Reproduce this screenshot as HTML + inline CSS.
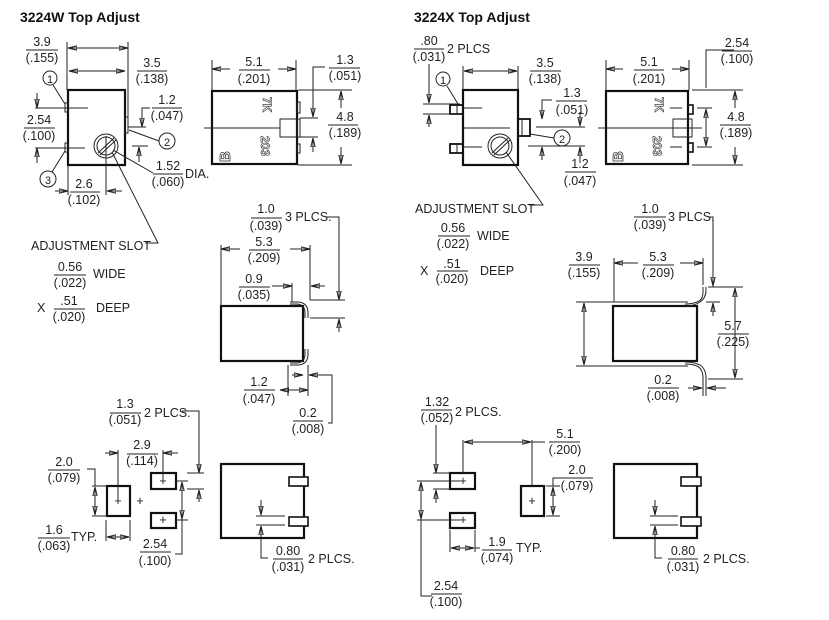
<!DOCTYPE html>
<html><head><meta charset="utf-8"><style>
html,body{margin:0;padding:0;background:#fff}
svg{display:block}
text{font-family:"Liberation Sans Narrow","Liberation Sans",sans-serif;font-size:12.5px;fill:#222}
.m{text-anchor:middle}
.t{font-family:"Liberation Sans",sans-serif;font-weight:bold;font-size:14px;fill:#111}
line,path,polyline{stroke:#222;stroke-width:1;fill:none}
.b{stroke-width:2.2;fill:none;stroke:#111}
.a{marker-end:url(#ar)}
.aa{marker-start:url(#ar2);marker-end:url(#ar)}
</style></head><body>
<svg width="829" height="620" viewBox="0 0 829 620" xmlns="http://www.w3.org/2000/svg">
<defs>
<marker id="ar" markerWidth="10" markerHeight="6" refX="9" refY="3" orient="auto" markerUnits="userSpaceOnUse"><path d="M0,0.8 L9,3 L0,5.2z" fill="#222" stroke="none"/></marker>
<marker id="ar2" markerWidth="10" markerHeight="6" refX="1" refY="3" orient="auto" markerUnits="userSpaceOnUse"><path d="M10,0.8 L1,3 L10,5.2z" fill="#222" stroke="none"/></marker>
</defs>

<!-- ============ LEFT 3224W ============ -->
<text x="20" y="22" class="t">3224W Top Adjust</text>

<rect x="68" y="90" width="57" height="75" class="b"/>
<rect x="65" y="103" width="3" height="9" fill="none" stroke="#222"/>
<rect x="65" y="143" width="3" height="9" fill="none" stroke="#222"/>
<rect x="125" y="117" width="3" height="16" fill="none" stroke="#222"/>
<circle cx="106" cy="146" r="12" fill="none" stroke="#222"/>
<circle cx="106" cy="146" r="9" fill="none" stroke="#222"/>
<line x1="98" y1="153" x2="114" y2="138"/><line x1="100" y1="155" x2="116" y2="140"/>
<line x1="106" y1="136" x2="106" y2="195"/>
<line x1="67" y1="42" x2="67" y2="90"/><line x1="128" y1="42" x2="128" y2="117"/>
<line x1="68" y1="48" x2="128" y2="48" class="aa"/>
<text x="42" y="46" class="m">3.9</text><line x1="26" y1="50" x2="58" y2="50"/><text x="42" y="62" class="m">(.155)</text>
<line x1="69" y1="71" x2="125" y2="71" class="aa"/>
<text x="152" y="67" class="m">3.5</text><line x1="137" y1="71" x2="167" y2="71"/><text x="152" y="83" class="m">(.138)</text>
<circle cx="50" cy="78" r="7" fill="none" stroke="#222"/><text x="50" y="83" class="m" style="font-size:11px">1</text>
<line x1="53" y1="85" x2="65" y2="104"/>
<line x1="35" y1="108" x2="88" y2="108"/><line x1="35" y1="148" x2="85" y2="148"/>
<line x1="37" y1="93" x2="37" y2="108" class="a"/><line x1="37" y1="163" x2="37" y2="148" class="a"/>
<text x="39" y="124" class="m">2.54</text><line x1="24" y1="128" x2="55" y2="128"/><text x="39" y="140" class="m">(.100)</text>
<text x="167" y="104" class="m">1.2</text><line x1="152" y1="108" x2="182" y2="108"/><text x="167" y="120" class="m">(.047)</text>
<polyline points="150,108 142,108 142,126"/><line x1="142" y1="112" x2="142" y2="127" class="a"/>
<line x1="128" y1="127" x2="146" y2="127"/><line x1="132" y1="146" x2="148" y2="146"/>
<line x1="139" y1="162" x2="139" y2="147" class="a"/>
<circle cx="167" cy="141" r="8" fill="none" stroke="#222"/><text x="167" y="146" class="m" style="font-size:11px">2</text>
<line x1="129" y1="130" x2="159" y2="141"/>
<text x="168" y="170" class="m">1.52</text><line x1="153" y1="174" x2="183" y2="174"/><text x="168" y="186" class="m">(.060)</text><text x="185" y="178">DIA.</text>
<line x1="113" y1="150" x2="153" y2="173"/>
<circle cx="48" cy="179" r="8" fill="none" stroke="#222"/><text x="48" y="184" class="m" style="font-size:11px">3</text>
<line x1="52" y1="172" x2="65" y2="151"/>
<line x1="68" y1="166" x2="68" y2="195"/>
<line x1="55" y1="191" x2="68" y2="191" class="a"/><line x1="122" y1="191" x2="107" y2="191" class="a"/>
<text x="84" y="188" class="m">2.6</text><line x1="70" y1="192" x2="100" y2="192"/><text x="84" y="204" class="m">(.102)</text>
<text x="31" y="250">ADJUSTMENT SLOT</text>
<polyline points="112,152 158,243 145,243"/>
<text x="70" y="271" class="m">0.56</text><line x1="54" y1="275" x2="86" y2="275"/><text x="70" y="287" class="m">(.022)</text><text x="93" y="278">WIDE</text>
<text x="37" y="312">X</text>
<text x="69" y="305" class="m">.51</text><line x1="54" y1="309" x2="85" y2="309"/><text x="69" y="321" class="m">(.020)</text><text x="96" y="312">DEEP</text>

<rect x="212" y="91" width="85" height="73" class="b"/>
<rect x="297" y="102" width="3" height="11" fill="none" stroke="#222"/>
<rect x="297" y="144" width="3" height="9" fill="none" stroke="#222"/>
<rect x="280" y="119" width="17" height="18" fill="none" stroke="#222"/>
<rect x="297" y="119" width="3" height="18" fill="none" stroke="#222"/>
<line x1="204" y1="128" x2="280" y2="128"/>
<text transform="translate(263,97) rotate(90)" style="font-size:12px;font-weight:bold;fill:#fff;stroke:#222;stroke-width:0.6">7K</text>
<text transform="translate(261,136) rotate(90)" style="font-size:12px;font-weight:bold;fill:#fff;stroke:#222;stroke-width:0.6">203</text>
<text x="217" y="161" style="font-size:15px;font-weight:bold;fill:#fff;stroke:#222;stroke-width:0.7" transform="rotate(-90 224 155)">B</text>
<line x1="212" y1="60" x2="212" y2="90"/><line x1="296" y1="60" x2="296" y2="90"/>
<line x1="230" y1="69" x2="212" y2="69" class="a"/><line x1="278" y1="69" x2="296" y2="69" class="a"/>
<text x="254" y="66" class="m">5.1</text><line x1="239" y1="70" x2="270" y2="70"/><text x="254" y="83" class="m">(.201)</text>
<text x="345" y="64" class="m">1.3</text><line x1="329" y1="68" x2="360" y2="68"/><text x="345" y="80" class="m">(.051)</text>
<polyline points="325,67 313,67 313,117"/><line x1="313" y1="100" x2="313" y2="117" class="a"/>
<line x1="300" y1="118" x2="318" y2="118"/><line x1="300" y1="137" x2="318" y2="137"/>
<line x1="313" y1="152" x2="313" y2="138" class="a"/>
<line x1="298" y1="90" x2="352" y2="90"/><line x1="298" y1="165" x2="352" y2="165"/>
<line x1="341" y1="108" x2="341" y2="91" class="a"/><line x1="341" y1="147" x2="341" y2="164" class="a"/>
<text x="345" y="121" class="m">4.8</text><line x1="328" y1="125" x2="358" y2="125"/><text x="345" y="137" class="m">(.189)</text>

<rect x="221" y="306" width="82" height="55" class="b"/>
<path d="M290,302 L297,302 Q308,302 308,313 L308,318"/>
<path d="M290,304 L296,304 Q305,304 305,313 L305,318"/>
<path d="M290,365 L297,365 Q308,365 308,354 L308,349"/>
<path d="M290,363 L296,363 Q305,363 305,354 L305,349"/>
<text x="266" y="213" class="m">1.0</text><line x1="251" y1="218" x2="282" y2="218"/><text x="266" y="230" class="m">(.039)</text><text x="285" y="221">3 PLCS.</text>
<polyline points="326,217 339,217 339,300"/><line x1="339" y1="280" x2="339" y2="300" class="a"/>
<line x1="221" y1="245" x2="221" y2="306"/><line x1="310" y1="245" x2="310" y2="300"/>
<line x1="240" y1="249" x2="221" y2="249" class="a"/><line x1="290" y1="249" x2="310" y2="249" class="a"/>
<text x="264" y="246" class="m">5.3</text><line x1="249" y1="250" x2="280" y2="250"/><text x="264" y="262" class="m">(.209)</text>
<line x1="292" y1="283" x2="292" y2="302"/>
<line x1="272" y1="286" x2="292" y2="286" class="a"/><line x1="325" y1="286" x2="311" y2="286" class="a"/>
<text x="254" y="283" class="m">0.9</text><line x1="239" y1="287" x2="270" y2="287"/><text x="254" y="299" class="m">(.035)</text>
<line x1="310" y1="300" x2="345" y2="300"/><line x1="310" y1="318" x2="345" y2="318"/>
<line x1="339" y1="332" x2="339" y2="319" class="a"/>
<line x1="288" y1="365" x2="288" y2="396"/><line x1="308" y1="365" x2="308" y2="396"/>
<line x1="292" y1="375" x2="303" y2="375" class="a"/><line x1="319" y1="375" x2="309" y2="375" class="a"/>
<line x1="280" y1="390" x2="308" y2="390" class="aa"/>
<text x="259" y="386" class="m">1.2</text><line x1="244" y1="390" x2="275" y2="390"/><text x="259" y="403" class="m">(.047)</text>
<polyline points="309,375 332,375 332,423 328,423"/>
<text x="308" y="417" class="m">0.2</text><line x1="293" y1="421" x2="323" y2="421"/><text x="308" y="433" class="m">(.008)</text>

<rect x="107" y="486" width="23" height="30" class="b"/>
<rect x="151" y="473" width="25" height="16" class="b"/>
<rect x="151" y="513" width="25" height="15" class="b"/>
<text x="118" y="505" class="m">+</text><text x="140" y="505" class="m">+</text>
<text x="163" y="485" class="m">+</text><text x="163" y="524" class="m">+</text>
<text x="125" y="408" class="m">1.3</text><line x1="110" y1="413" x2="141" y2="413"/><text x="125" y="424" class="m">(.051)</text><text x="144" y="417">2 PLCS.</text>
<polyline points="182,411 199,411 199,473"/><line x1="199" y1="455" x2="199" y2="473" class="a"/>
<line x1="187" y1="473" x2="204" y2="473"/><line x1="187" y1="489" x2="204" y2="489"/>
<line x1="199" y1="502" x2="199" y2="490" class="a"/>
<line x1="118" y1="450" x2="118" y2="500"/><line x1="163" y1="450" x2="163" y2="480"/>
<line x1="105" y1="453" x2="118" y2="453" class="a"/><line x1="178" y1="453" x2="163" y2="453" class="a"/>
<text x="142" y="449" class="m">2.9</text><line x1="127" y1="454" x2="158" y2="454"/><text x="142" y="465" class="m">(.114)</text>
<text x="64" y="466" class="m">2.0</text><line x1="48" y1="470" x2="80" y2="470"/><text x="64" y="482" class="m">(.079)</text>
<polyline points="87,469 95,469 95,486"/>
<line x1="92" y1="486" x2="107" y2="486"/><line x1="92" y1="516" x2="107" y2="516"/>
<line x1="95" y1="487" x2="95" y2="515" class="aa"/>
<line x1="106" y1="520" x2="106" y2="541"/><line x1="130" y1="520" x2="130" y2="541"/>
<line x1="107" y1="537" x2="129" y2="537" class="aa"/>
<text x="54" y="534" class="m">1.6</text><line x1="38" y1="538" x2="70" y2="538"/><text x="54" y="550" class="m">(.063)</text><text x="71" y="541">TYP.</text>
<line x1="176" y1="481" x2="188" y2="481"/><line x1="176" y1="520" x2="188" y2="520"/>
<line x1="182" y1="482" x2="182" y2="519" class="aa"/>
<polyline points="182,519 182,554 175,554"/>
<text x="155" y="548" class="m">2.54</text><line x1="140" y1="552" x2="171" y2="552"/><text x="155" y="565" class="m">(.100)</text>

<rect x="221" y="464" width="83" height="74" class="b"/>
<rect x="289" y="477" width="19" height="9" fill="#fff" stroke="#111" stroke-width="1.6"/>
<rect x="289" y="517" width="19" height="9" fill="#fff" stroke="#111" stroke-width="1.6"/>
<line x1="256" y1="516" x2="285" y2="516"/><line x1="256" y1="525" x2="285" y2="525"/>
<line x1="261" y1="500" x2="261" y2="515" class="a"/><line x1="261" y1="540" x2="261" y2="526" class="a"/>
<polyline points="261,530 261,558 268,558"/>
<text x="288" y="555" class="m">0.80</text><line x1="273" y1="559" x2="303" y2="559"/><text x="288" y="571" class="m">(.031)</text><text x="308" y="563">2 PLCS.</text>

<!-- ============ RIGHT 3224X ============ -->
<text x="414" y="22" class="t">3224X Top Adjust</text>

<rect x="463" y="90" width="55" height="75" class="b"/>
<rect x="450" y="105" width="13" height="9" fill="none" stroke="#111" stroke-width="1.8"/><line x1="457" y1="105" x2="457" y2="114"/>
<rect x="450" y="144" width="13" height="9" fill="none" stroke="#111" stroke-width="1.8"/><line x1="457" y1="144" x2="457" y2="153"/>
<rect x="518" y="119" width="12" height="17" fill="none" stroke="#111" stroke-width="1.8"/><line x1="522" y1="119" x2="522" y2="136"/>
<circle cx="500" cy="146" r="12" fill="none" stroke="#222"/><circle cx="500" cy="146" r="9" fill="none" stroke="#222"/>
<line x1="492" y1="153" x2="508" y2="138"/><line x1="494" y1="155" x2="510" y2="140"/>
<line x1="463" y1="66" x2="463" y2="90"/><line x1="518" y1="66" x2="518" y2="90"/>
<line x1="464" y1="71" x2="517" y2="71" class="aa"/>
<text x="545" y="67" class="m">3.5</text><line x1="530" y1="71" x2="561" y2="71"/><text x="545" y="83" class="m">(.138)</text>
<text x="429" y="45" class="m">.80</text><line x1="414" y1="49" x2="444" y2="49"/><text x="429" y="61" class="m">(.031)</text><text x="447" y="53">2 PLCS</text>
<line x1="429" y1="64" x2="429" y2="103" class="a"/>
<line x1="423" y1="104" x2="460" y2="104"/><line x1="423" y1="114" x2="460" y2="114"/>
<line x1="429" y1="127" x2="429" y2="115" class="a"/>
<circle cx="443" cy="79" r="7" fill="none" stroke="#222"/><text x="443" y="84" class="m" style="font-size:11px">1</text>
<line x1="447" y1="86" x2="458" y2="104"/>
<line x1="463" y1="108" x2="482" y2="108"/><line x1="463" y1="128" x2="510" y2="128"/><line x1="463" y1="147" x2="482" y2="147"/>
<text x="572" y="97" class="m">1.3</text><line x1="556" y1="101" x2="587" y2="101"/><text x="572" y="114" class="m">(.051)</text>
<polyline points="552,100 542,100 542,118"/><line x1="542" y1="105" x2="542" y2="119" class="a"/>
<line x1="536" y1="127" x2="585" y2="127"/><line x1="528" y1="146" x2="585" y2="146"/>
<line x1="580" y1="112" x2="580" y2="126" class="a"/>
<line x1="542" y1="160" x2="542" y2="147" class="a"/>
<line x1="580" y1="163" x2="580" y2="147" class="a"/>
<circle cx="562" cy="138" r="8" fill="none" stroke="#222"/><text x="562" y="143" class="m" style="font-size:11px">2</text>
<line x1="530" y1="134" x2="554" y2="138"/>
<text x="580" y="168" class="m">1.2</text><line x1="565" y1="172" x2="596" y2="172"/><text x="580" y="185" class="m">(.047)</text>
<text x="415" y="213">ADJUSTMENT SLOT</text>
<polyline points="506,152 543,205 529,205"/>
<text x="453" y="232" class="m">0.56</text><line x1="438" y1="236" x2="470" y2="236"/><text x="453" y="248" class="m">(.022)</text><text x="477" y="240">WIDE</text>
<text x="420" y="275">X</text>
<text x="452" y="268" class="m">.51</text><line x1="437" y1="271" x2="468" y2="271"/><text x="452" y="283" class="m">(.020)</text><text x="480" y="275">DEEP</text>

<rect x="606" y="91" width="82" height="73" class="b"/>
<rect x="688" y="105" width="5" height="9" fill="none" stroke="#111" stroke-width="1.6"/>
<rect x="688" y="143" width="5" height="9" fill="none" stroke="#111" stroke-width="1.6"/>
<rect x="673" y="119" width="19" height="18" fill="none" stroke="#222"/>
<line x1="598" y1="128" x2="702" y2="128"/>
<line x1="670" y1="108" x2="682" y2="108"/><line x1="670" y1="147" x2="682" y2="147"/>
<text transform="translate(655,97) rotate(90)" style="font-size:12px;font-weight:bold;fill:#fff;stroke:#222;stroke-width:0.6">7K</text>
<text transform="translate(653,136) rotate(90)" style="font-size:12px;font-weight:bold;fill:#fff;stroke:#222;stroke-width:0.6">203</text>
<text x="610" y="161" style="font-size:15px;font-weight:bold;fill:#fff;stroke:#222;stroke-width:0.7" transform="rotate(-90 617 155)">B</text>
<line x1="606" y1="60" x2="606" y2="90"/><line x1="689" y1="60" x2="689" y2="90"/>
<line x1="623" y1="69" x2="606" y2="69" class="a"/><line x1="672" y1="69" x2="689" y2="69" class="a"/>
<text x="649" y="66" class="m">5.1</text><line x1="634" y1="70" x2="664" y2="70"/><text x="649" y="83" class="m">(.201)</text>
<text x="737" y="47" class="m">2.54</text><line x1="722" y1="51" x2="752" y2="51"/><text x="737" y="63" class="m">(.100)</text>
<polyline points="734,50 706,50 706,88"/>
<line x1="697" y1="108" x2="712" y2="108"/><line x1="697" y1="147" x2="712" y2="147"/>
<line x1="706" y1="109" x2="706" y2="146" class="aa"/>
<line x1="692" y1="90" x2="743" y2="90"/><line x1="692" y1="165" x2="743" y2="165"/>
<line x1="735" y1="108" x2="735" y2="91" class="a"/><line x1="735" y1="147" x2="735" y2="164" class="a"/>
<text x="736" y="121" class="m">4.8</text><line x1="720" y1="125" x2="751" y2="125"/><text x="736" y="137" class="m">(.189)</text>

<rect x="613" y="306" width="84" height="55" class="b"/>
<line x1="576" y1="302" x2="688" y2="302"/>
<path d="M685,304 Q692,304 697,302 Q703,300 703,292 L703,287"/>
<path d="M685,306 Q694,306 700,302 Q706,298 706,290 L706,287"/>
<line x1="576" y1="366" x2="688" y2="366"/>
<path d="M685,364 Q692,364 697,366 Q703,369 703,378 L703,396"/>
<path d="M685,362 Q694,362 700,365 Q706,369 706,378 L706,396"/>
<line x1="614" y1="258" x2="614" y2="302"/><line x1="703" y1="258" x2="703" y2="285"/>
<line x1="638" y1="263" x2="614" y2="263" class="a"/><line x1="680" y1="263" x2="703" y2="263" class="a"/>
<text x="658" y="261" class="m">5.3</text><line x1="643" y1="265" x2="674" y2="265"/><text x="658" y="277" class="m">(.209)</text>
<text x="584" y="261" class="m">3.9</text><line x1="569" y1="265" x2="600" y2="265"/><text x="584" y="277" class="m">(.155)</text>
<line x1="584" y1="303" x2="584" y2="365" class="aa"/>
<text x="650" y="213" class="m">1.0</text><line x1="634" y1="217" x2="666" y2="217"/><text x="650" y="229" class="m">(.039)</text><text x="668" y="221">3 PLCS.</text>
<polyline points="708,217 713,217 713,287"/><line x1="713" y1="272" x2="713" y2="286" class="a"/>
<line x1="708" y1="287" x2="743" y2="287"/>
<line x1="706" y1="302" x2="720" y2="302"/>
<line x1="713" y1="316" x2="713" y2="303" class="a"/>
<line x1="735" y1="288" x2="735" y2="378" class="aa"/>
<line x1="708" y1="379" x2="743" y2="379"/>
<text x="733" y="330" class="m">5.7</text><line x1="718" y1="334" x2="749" y2="334"/><text x="733" y="346" class="m">(.225)</text>
<line x1="688" y1="388" x2="702" y2="388" class="a"/><line x1="726" y1="388" x2="707" y2="388" class="a"/>
<text x="663" y="384" class="m">0.2</text><line x1="648" y1="388" x2="679" y2="388"/><text x="663" y="400" class="m">(.008)</text>

<rect x="450" y="473" width="25" height="16" class="b"/>
<rect x="450" y="513" width="25" height="15" class="b"/>
<rect x="521" y="486" width="23" height="30" class="b"/>
<text x="463" y="485" class="m">+</text><text x="463" y="524" class="m">+</text><text x="532" y="505" class="m">+</text>
<text x="437" y="406" class="m">1.32</text><line x1="421" y1="410" x2="452" y2="410"/><text x="437" y="422" class="m">(.052)</text><text x="455" y="416">2 PLCS.</text>
<line x1="436" y1="425" x2="436" y2="473" class="a"/>
<line x1="433" y1="473" x2="450" y2="473"/><line x1="433" y1="489" x2="450" y2="489"/>
<line x1="436" y1="503" x2="436" y2="490" class="a"/>
<line x1="463" y1="440" x2="463" y2="473"/><line x1="532" y1="440" x2="532" y2="486"/>
<line x1="464" y1="442" x2="531" y2="442" class="aa"/><line x1="532" y1="442" x2="545" y2="442"/>
<text x="565" y="438" class="m">5.1</text><line x1="549" y1="442" x2="580" y2="442"/><text x="565" y="454" class="m">(.200)</text>
<line x1="546" y1="486" x2="560" y2="486"/><line x1="546" y1="516" x2="560" y2="516"/>
<line x1="553" y1="487" x2="553" y2="515" class="aa"/>
<polyline points="553,486 553,478 562,478"/>
<text x="577" y="474" class="m">2.0</text><line x1="562" y1="478" x2="593" y2="478"/><text x="577" y="490" class="m">(.079)</text>
<line x1="417" y1="481" x2="460" y2="481"/><line x1="417" y1="520" x2="460" y2="520"/>
<line x1="421" y1="482" x2="421" y2="519" class="aa"/>
<polyline points="421,519 421,596 432,596"/>
<text x="446" y="590" class="m">2.54</text><line x1="431" y1="594" x2="462" y2="594"/><text x="446" y="606" class="m">(.100)</text>
<line x1="450" y1="530" x2="450" y2="552"/><line x1="475" y1="530" x2="475" y2="552"/>
<line x1="451" y1="548" x2="474" y2="548" class="aa"/><line x1="475" y1="548" x2="480" y2="548"/>
<text x="497" y="546" class="m">1.9</text><line x1="482" y1="550" x2="512" y2="550"/><text x="497" y="562" class="m">(.074)</text><text x="516" y="552">TYP.</text>

<rect x="614" y="464" width="83" height="74" class="b"/>
<rect x="681" y="477" width="20" height="9" fill="#fff" stroke="#111" stroke-width="1.6"/>
<rect x="681" y="517" width="20" height="9" fill="#fff" stroke="#111" stroke-width="1.6"/>
<line x1="650" y1="516" x2="678" y2="516"/><line x1="650" y1="525" x2="678" y2="525"/>
<line x1="655" y1="500" x2="655" y2="515" class="a"/><line x1="655" y1="540" x2="655" y2="526" class="a"/>
<polyline points="655,530 655,558 662,558"/>
<text x="683" y="555" class="m">0.80</text><line x1="668" y1="559" x2="698" y2="559"/><text x="683" y="571" class="m">(.031)</text><text x="703" y="563">2 PLCS.</text>
</svg>
</body></html>
